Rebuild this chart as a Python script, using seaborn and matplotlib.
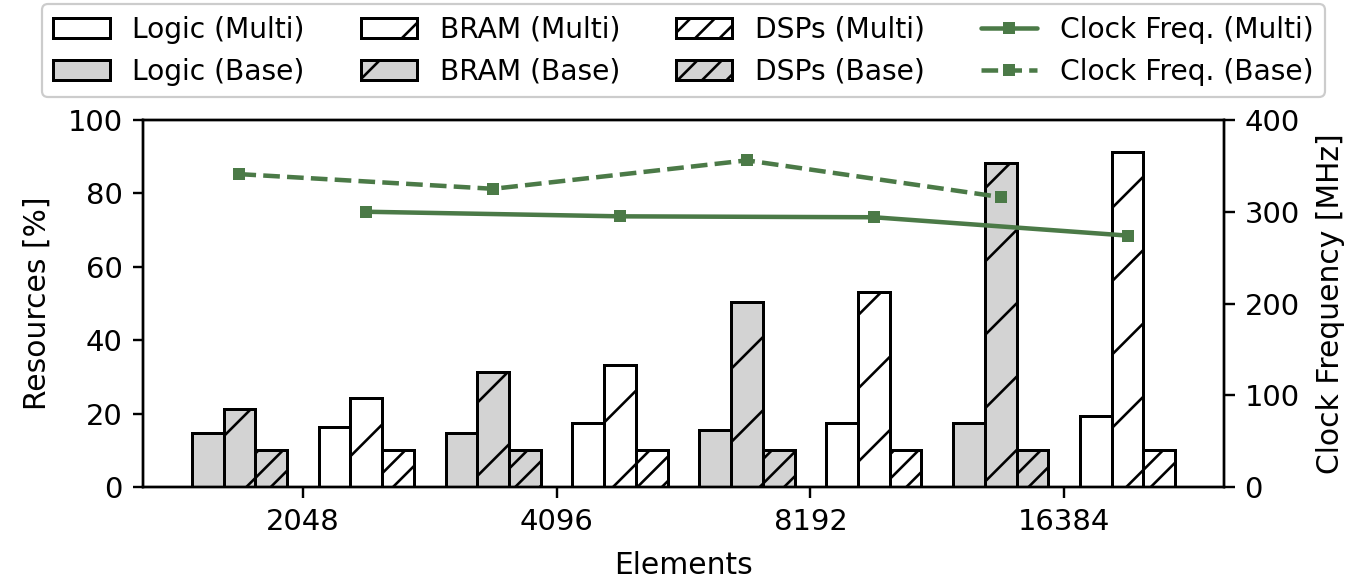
import matplotlib
matplotlib.use("Agg")
import matplotlib.pyplot as plt
import pandas as pd
import seaborn as sns

# ---- data -------------------------------------------------------------
elements = ["2048", "4096", "8192", "16384"]

logic_base = [14.6, 14.6, 15.5, 17.4]
bram_base = [21.3, 31.3, 50.3, 88.4]
dsp_base = [10.2, 10.2, 10.2, 10.2]

logic_multi = [16.4, 17.4, 17.4, 19.4]
bram_multi = [24.3, 33.2, 53.2, 91.2]
dsp_multi = [10.2, 10.2, 10.2, 10.2]

clock_base = [341, 325, 356, 316]
clock_multi = [300, 295, 294, 274]

series_names = ["Logic (Base)", "BRAM (Base)", "DSPs (Base)",
                "Logic (Multi)", "BRAM (Multi)", "DSPs (Multi)"]
series_values = [logic_base, bram_base, dsp_base,
                 logic_multi, bram_multi, dsp_multi]

# ---- styling ----------------------------------------------------------
DPI = 220
W, H = 1370, 578
GREEN = "#4b7a47"
GRAY = "#d3d3d3"


def pt(px):
    """Convert a size in output pixels to points."""
    return px * 72.0 / DPI


sns.set_style("ticks", {
    "axes.edgecolor": "black",
    "axes.labelcolor": "black",
    "text.color": "black",
    "xtick.color": "black",
    "ytick.color": "black",
})
plt.rcParams.update({
    "font.family": ["DejaVu Sans"],
    "axes.linewidth": pt(2.4),
    "xtick.major.width": pt(2.4),
    "ytick.major.width": pt(2.4),
    "xtick.major.size": pt(10.5),
    "ytick.major.size": pt(10.5),
    "xtick.major.pad": pt(10),
    "ytick.major.pad": pt(10),
    "xtick.labelsize": pt(29),
    "ytick.labelsize": pt(29),
    "axes.labelsize": pt(29.8),
    "legend.fontsize": pt(28.1),
    "hatch.linewidth": pt(2.6),
    "hatch.color": "black",
})

# ---- long-form table for the bar chart ---------------------------------
spacer = " "
hue_order = series_names[:3] + [spacer] + series_names[3:]
rows = []
for name, vals in zip(series_names, series_values):
    for el, v in zip(elements, vals):
        rows.append({"Elements": el, "Series": name, "Resources": v})
df = pd.DataFrame(rows)

palette = {name: (GRAY if "Base" in name else "white") for name in series_names}
palette[spacer] = "white"

fig = plt.figure(figsize=(W / DPI, H / DPI), dpi=DPI)
ax = fig.add_axes([143 / W, 1 - 487 / H, (1224 - 143) / W, (487 - 120) / H])

sns.barplot(
    data=df, x="Elements", y="Resources", hue="Series",
    order=elements, hue_order=hue_order, palette=palette,
    width=0.875, saturation=1, errorbar=None, legend=False,
    edgecolor="black", linewidth=pt(3), ax=ax,
)

containers = [c for c in ax.containers if len(c.patches) > 0]
bars = dict(zip(series_names, containers))
hatches = {"Logic": "", "BRAM": "/", "DSPs": "///"}
for name, cont in bars.items():
    for patch in cont.patches:
        patch.set_hatch(hatches[name.split()[0]])
        patch.set_edgecolor("black")

ax.set_xlim(-0.63, 3.63)
ax.set_ylim(0, 100)
ax.set_yticks(range(0, 101, 20))
ax.set_xlabel("Elements", labelpad=pt(15))
ax.set_ylabel("Resources [%]", labelpad=pt(16))

# ---- clock frequency on the secondary axis ----------------------------
ax2 = ax.twinx()


def centers(cont):
    return [p.get_x() + p.get_width() / 2 for p in cont.patches]


line_kw = dict(color=GREEN, marker="s", markersize=pt(12),
               markeredgewidth=0, markeredgecolor=GREEN,
               linewidth=pt(4.5), legend=False, ax=ax2)
sns.lineplot(x=centers(bars["BRAM (Multi)"]), y=clock_multi,
             linestyle="-", **line_kw)
sns.lineplot(x=centers(bars["BRAM (Base)"]), y=clock_base,
             linestyle="--", **line_kw)
ax2.set_ylim(0, 400)
ax2.set_yticks(range(0, 401, 100))
ax2.set_ylabel("Clock Frequency [MHz]", labelpad=pt(16))
ax2.set_xlim(-0.63, 3.63)

line_multi, line_base = ax2.lines[0], ax2.lines[1]

handles = [bars["Logic (Multi)"], bars["Logic (Base)"],
           bars["BRAM (Multi)"], bars["BRAM (Base)"],
           bars["DSPs (Multi)"], bars["DSPs (Base)"],
           line_multi, line_base]
labels = ["Logic (Multi)", "Logic (Base)",
          "BRAM (Multi)", "BRAM (Base)",
          "DSPs (Multi)", "DSPs (Base)",
          "Clock Freq. (Multi)", "Clock Freq. (Base)"]
leg = ax2.legend(handles, labels, ncol=4, loc="lower center",
                 bbox_to_anchor=(0.5, (487 - 97) / (487 - 120)),
                 borderaxespad=0, frameon=True, fancybox=True,
                 edgecolor="0.8", framealpha=1.0)
leg.get_frame().set_linewidth(pt(2.2))

fig.savefig("out.png", dpi=DPI)
